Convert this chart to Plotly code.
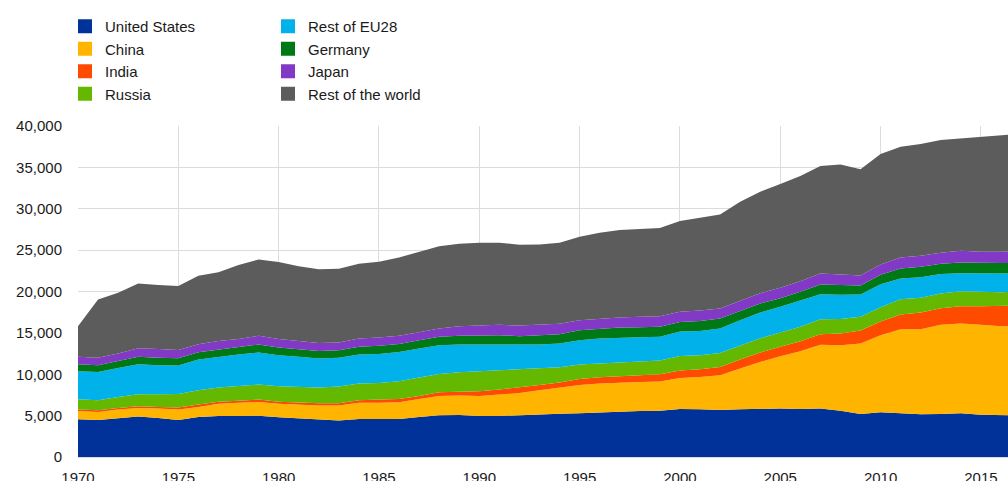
import plotly.graph_objects as go

years = list(range(1970, 2018))

united_states = [4560, 4480, 4680, 4880, 4720, 4480, 4840, 4960, 4960, 5000,
                 4800, 4640, 4480, 4400, 4600, 4640, 4600, 4840, 5040, 5080,
                 4960, 4960, 5080, 5200, 5240, 5280, 5400, 5520, 5560, 5600,
                 5800, 5770, 5690, 5770, 5850, 5850, 5810, 5850, 5600, 5200,
                 5400, 5280, 5160, 5200, 5280, 5120, 5040, 5000]
china = [1000, 960, 1050, 1050, 1130, 1250, 1210, 1490, 1610, 1650,
         1650, 1690, 1730, 1810, 1970, 1930, 2010, 2180, 2340, 2340,
         2420, 2580, 2660, 2860, 3110, 3430, 3470, 3470, 3510, 3510,
         3760, 3910, 4190, 4920, 5640, 6330, 6970, 7700, 7910, 8510,
         9320, 10160, 10280, 10770, 10850, 10850, 10770, 10800]
india = [170, 210, 200, 200, 200, 240, 280, 240, 240, 290,
         240, 240, 280, 280, 280, 370, 410, 360, 440, 480,
         560, 610, 650, 650, 640, 730, 770, 810, 810, 890,
         900, 920, 1010, 1080, 1130, 1130, 1210, 1290, 1410, 1570,
         1650, 1780, 2020, 2010, 2100, 2260, 2420, 2500]
russia = [1250, 1200, 1330, 1450, 1530, 1650, 1730, 1700, 1780, 1810,
          1860, 1900, 1900, 2020, 2020, 2010, 2130, 2220, 2220, 2340,
          2420, 2330, 2210, 1980, 1860, 1730, 1650, 1650, 1650, 1650,
          1740, 1700, 1690, 1740, 1730, 1730, 1740, 1810, 1770, 1660,
          1730, 1850, 1770, 1780, 1810, 1730, 1690, 1700]
rest_eu28 = [3380, 3430, 3510, 3630, 3510, 3430, 3710, 3710, 3790, 3870,
             3750, 3630, 3510, 3470, 3510, 3510, 3550, 3500, 3470, 3350,
             3230, 3110, 2910, 2900, 2860, 2940, 3020, 2990, 2950, 2870,
             2960, 2940, 2940, 3020, 3110, 3110, 3140, 3030, 2910, 2700,
             2790, 2500, 2500, 2340, 2180, 2220, 2260, 2250]
germany = [840, 810, 840, 890, 890, 890, 890, 880, 850, 970,
           930, 880, 920, 920, 930, 970, 970, 1010, 1010, 1050,
           1050, 1130, 1090, 1170, 1130, 1210, 1210, 1210, 1210, 1210,
           1150, 1210, 1210, 1090, 1090, 1040, 1090, 1170, 1170, 1090,
           1130, 1210, 1250, 1250, 1290, 1250, 1250, 1250]
japan = [900, 890, 890, 1050, 1080, 1000, 970, 1050, 1040, 1050,
         1040, 1050, 970, 930, 1000, 1010, 970, 970, 1000, 1170,
         1290, 1250, 1290, 1210, 1250, 1210, 1210, 1200, 1250, 1290,
         1250, 1250, 1210, 1250, 1250, 1250, 1290, 1330, 1330, 1210,
         1250, 1330, 1330, 1330, 1410, 1370, 1370, 1370]
rest_of_world = [3700, 7050, 7340, 7820, 7740, 7710, 8270, 8310, 8920, 9230,
                 9280, 9030, 8910, 8910, 9040, 9150, 9470, 9720, 9960, 9960,
                 9960, 9920, 9760, 9720, 9800, 10080, 10370, 10570, 10600, 10640,
                 10960, 11250, 11370, 11980, 12260, 12540, 12700, 12980, 13260, 12820,
                 13340, 13390, 13510, 13630, 13590, 13830, 14070, 14200]

series_names = ["United States", "China", "India", "Russia",
                "Rest of EU28", "Germany", "Japan", "Rest of the world"]
series_values = [united_states, china, india, russia,
                 rest_eu28, germany, japan, rest_of_world]
series_colors = ["#003299", "#FFB400", "#FF4B00", "#65B800",
                 "#00B1EA", "#007816", "#8139C6", "#5C5C5C"]

y_ticks = [0, 5000, 10000, 15000, 20000, 25000, 30000, 35000, 40000]
x_ticks = [1970, 1975, 1980, 1985, 1990, 1995, 2000, 2005, 2010, 2015]

FONT = "Liberation Sans, Arial, sans-serif"

fig = go.Figure()

for name, vals, col in zip(series_names, series_values, series_colors):
    fig.add_trace(go.Scatter(
        x=years, y=vals, name=name, stackgroup="one", mode="lines",
        line=dict(width=0, color=col), fillcolor=col, showlegend=False,
    ))

for i, (name, col) in enumerate(zip(series_names, series_colors)):
    fig.add_trace(go.Scatter(
        x=[None], y=[None], mode="markers", name=name,
        marker=dict(symbol="square", size=14, color=col, line=dict(width=0)),
        legend="legend" if i < 4 else "legend2", showlegend=True,
    ))

legend_common = dict(
    font=dict(family=FONT, size=15, color="#1a1a1a"),
    bgcolor="rgba(0,0,0,0)", orientation="v", traceorder="normal",
    xref="container", yref="container",
    yanchor="top", xanchor="left", itemclick=False,
)

fig.update_layout(
    width=1008, height=481,
    margin=dict(l=78, r=0, t=126, b=24, autoexpand=False),
    paper_bgcolor="white", plot_bgcolor="white",
    font=dict(family=FONT, size=15, color="#1a1a1a"),
    legend=dict(x=0.0645, y=0.9792, **legend_common),
    legend2=dict(x=0.2659, y=0.9792, **legend_common),
    xaxis=dict(
        range=[1970, 2016.35], tickvals=x_ticks, showgrid=True,
        gridcolor="#dcdcdc", gridwidth=1, zeroline=False,
        showline=True, linecolor="#dcdcdc", ticks="",
        ticklabelstandoff=7, tickfont=dict(size=15), automargin=False,
    ),
    yaxis=dict(
        range=[0, 40000], tickvals=y_ticks, tickformat=",d",
        showgrid=True, gridcolor="#dcdcdc", gridwidth=1, zeroline=False,
        showline=False, ticks="", ticklabelstandoff=15, tickfont=dict(size=15),
        automargin=False,
    ),
)

fig.write_html(
    "out.html",
    config={"displayModeBar": False},
    post_script="document.body.style.margin='0';document.body.style.overflow='hidden';",
)
